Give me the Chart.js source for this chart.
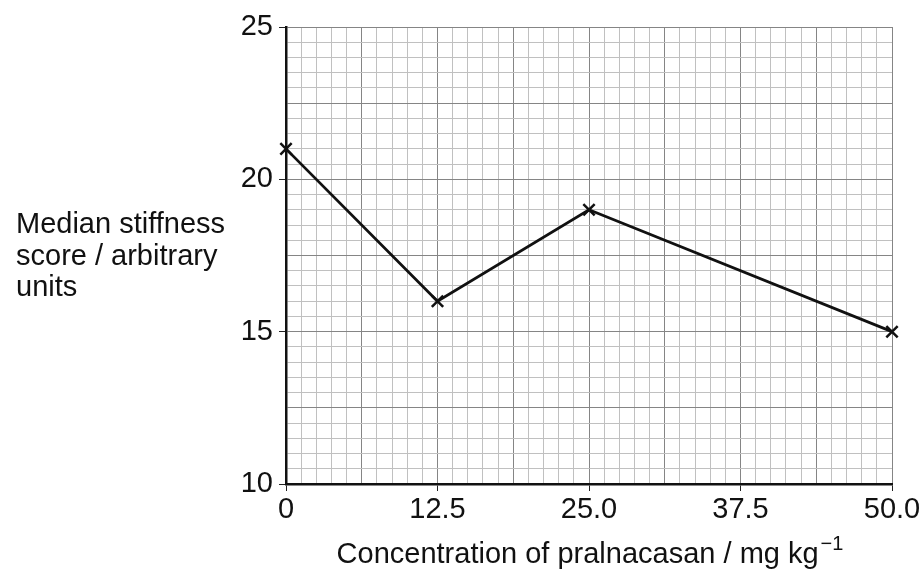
<!DOCTYPE html>
<html>
<head>
<meta charset="utf-8">
<script src="https://cdn.jsdelivr.net/npm/chart.js@4/dist/chart.umd.min.js"></script>
<style>
html,body{margin:0;padding:0;background:#fff;}
#wrap{width:924px;height:570px;position:relative;}
</style>
</head>
<body>
<div id="wrap"><canvas id="c" width="924" height="570"></canvas></div>
<script>
// Data
const concentrations = [0, 12.5, 25.0, 50.0];
const stiffness = [21, 16, 19, 15];
const xTickLabels = ["0", "12.5", "25.0", "37.5", "50.0"];
const xTickValues = [0, 12.5, 25, 37.5, 50];
const yTickLabels = ["10", "15", "20", "25"];
const yTickValues = [10, 15, 20, 25];
const yTitleLines = ["Median stiffness", "score / arbitrary", "units"];
const xTitleMain = "Concentration of pralnacasan / mg kg";
const xTitleSup = "\u22121";

const FONT = "'Liberation Sans', Arial, sans-serif";
const MAJOR = '#858585';
const MINOR = '#c0c0c0';

function near(v, arr) { return arr.findIndex(a => Math.abs(a - v) < 1e-6); }

const titles = {
  id: 'titles',
  afterDraw(chart) {
    const ctx = chart.ctx;
    ctx.save();
    ctx.fillStyle = '#111';
    ctx.font = '29px ' + FONT;
    ctx.textAlign = 'left';
    ctx.textBaseline = 'alphabetic';
    const base = [233, 265, 296];
    yTitleLines.forEach((t, i) => ctx.fillText(t, 16, base[i]));
    // x title with superscript
    const area = chart.chartArea;
    ctx.font = '29px ' + FONT;
    const w1 = ctx.measureText(xTitleMain).width;
    ctx.font = '20px ' + FONT;
    const w2 = ctx.measureText(xTitleSup).width;
    const cx = (area.left + area.right) / 2;
    const x0 = cx - (w1 + w2) / 2;
    ctx.font = '29px ' + FONT;
    ctx.fillText(xTitleMain, x0, 563);
    ctx.font = '20px ' + FONT;
    ctx.fillText(xTitleSup, x0 + w1 + 2, 550);
    ctx.restore();
  }
};

new Chart(document.getElementById('c'), {
  type: 'line',
  data: {
    datasets: [{
      data: concentrations.map((x, i) => ({x: x, y: stiffness[i]})),
      borderColor: '#111',
      borderWidth: 2.8,
      pointStyle: 'crossRot',
      pointRadius: 8,
      pointBorderWidth: 2.5,
      pointBorderColor: '#111',
      pointBackgroundColor: '#111',
      tension: 0,
      fill: false,
      clip: false
    }]
  },
  options: {
    responsive: false,
    animation: false,
    layout: {padding: {left: 0, right: 32, top: 27, bottom: 0}},
    plugins: {legend: {display: false}, tooltip: {enabled: false}},
    scales: {
      x: {
        type: 'linear',
        min: 0, max: 50,
        afterFit(s) { s.height = 86; },
        afterBuildTicks(s) {
          const t = [];
          for (let i = 0; i <= 40; i++) t.push({value: i * 1.25});
          s.ticks = t;
        },
        ticks: {
          autoSkip: false,
          maxRotation: 0,
          padding: 2,
          color: '#111',
          font: {family: FONT, size: 29},
          callback(v) { const k = near(v, xTickValues); return k >= 0 ? xTickLabels[k] : ''; }
        },
        grid: {
          color(c) { return c.index % 5 === 0 ? MAJOR : MINOR; },
          lineWidth: 1,
          tickLength: 7,
          tickColor(c) { return c.tick && near(c.tick.value, xTickValues) >= 0 ? '#222' : 'rgba(0,0,0,0)'; },
          drawTicks: true
        },
        border: {display: true, color: '#111', width: 2.5}
      },
      y: {
        type: 'linear',
        min: 10, max: 25,
        afterFit(s) { s.width = 286; },
        afterBuildTicks(s) {
          const t = [];
          for (let i = 0; i <= 30; i++) t.push({value: 10 + i * 0.5});
          s.ticks = t;
        },
        ticks: {
          autoSkip: false,
          padding: 6,
          color: '#111',
          font: {family: FONT, size: 29},
          callback(v) { const k = near(v, yTickValues); return k >= 0 ? yTickLabels[k] : ''; }
        },
        grid: {
          color(c) { return c.index % 5 === 0 ? MAJOR : MINOR; },
          lineWidth: 1,
          tickLength: 7,
          tickColor(c) { return c.tick && near(c.tick.value, yTickValues) >= 0 ? '#222' : 'rgba(0,0,0,0)'; }
        },
        border: {display: true, color: '#111', width: 2.5}
      }
    }
  },
  plugins: [titles]
});
</script>
</body>
</html>
